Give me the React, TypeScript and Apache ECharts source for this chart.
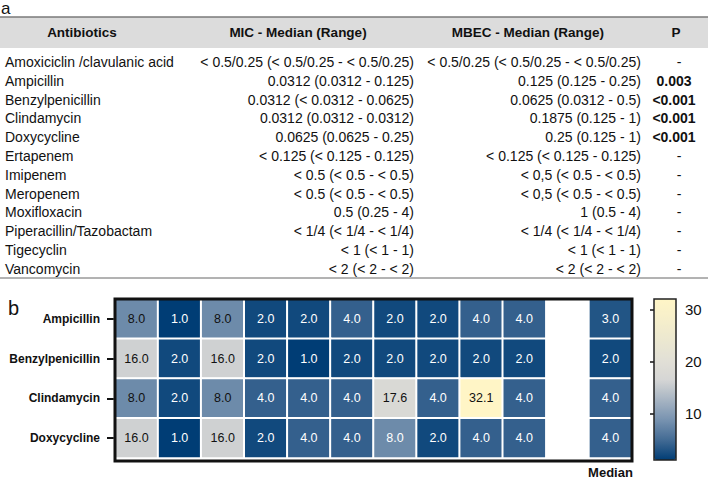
import React, { useEffect, useRef } from "react";
import * as echarts from "echarts";

// ---- Table (a) data ----
const antibiotics = [
  "Amoxiciclin /clavulanic acid",
  "Ampicillin",
  "Benzylpenicillin",
  "Clindamycin",
  "Doxycycline",
  "Ertapenem",
  "Imipenem",
  "Meropenem",
  "Moxifloxacin",
  "Piperacillin/Tazobactam",
  "Tigecyclin",
  "Vancomycin",
];
const micValues = [
  "< 0.5/0.25 (< 0.5/0.25 - < 0.5/0.25)",
  "0.0312 (0.0312 - 0.125)",
  "0.0312 (< 0.0312 - 0.0625)",
  "0.0312 (0.0312 - 0.0312)",
  "0.0625 (0.0625 - 0.25)",
  "< 0.125 (< 0.125 - 0.125)",
  "< 0.5 (< 0.5 - < 0.5)",
  "< 0.5 (< 0.5 - < 0.5)",
  "0.5 (0.25 - 4)",
  "< 1/4 (< 1/4 - < 1/4)",
  "< 1 (< 1 - 1)",
  "< 2 (< 2 - < 2)",
];
const mbecValues = [
  "< 0.5/0.25 (< 0.5/0.25 - < 0.5/0.25)",
  "0.125 (0.125 - 0.25)",
  "0.0625 (0.0312 - 0.5)",
  "0.1875 (0.125 - 1)",
  "0.25 (0.125 - 1)",
  "< 0.125 (< 0.125 - 0.125)",
  "< 0,5 (< 0.5 - < 0.5)",
  "< 0,5 (< 0.5 - < 0.5)",
  "1 (0.5 - 4)",
  "< 1/4 (< 1/4 - < 1/4)",
  "< 1 (< 1 - 1)",
  "< 2 (< 2 - < 2)",
];
const pValues = ["-", "0.003", "<0.001", "<0.001", "<0.001", "-", "-", "-", "-", "-", "-", "-"];
const tableHeaders = ["Antibiotics", "MIC - Median (Range)", "MBEC - Median (Range)", "P"];

// ---- Heatmap (b) data ----
const heatRows = ["Ampicillin", "Benzylpenicillin", "Clindamycin", "Doxycycline"];
const heatCols = ["1", "2", "3", "4", "5", "6", "7", "8", "9", "10", "", "Median"];
const ampicillinRatios = [8.0, 1.0, 8.0, 2.0, 2.0, 4.0, 2.0, 2.0, 4.0, 4.0, null, 3.0];
const benzylpenicillinRatios = [16.0, 2.0, 16.0, 2.0, 1.0, 2.0, 2.0, 2.0, 2.0, 2.0, null, 2.0];
const clindamycinRatios = [8.0, 2.0, 8.0, 4.0, 4.0, 4.0, 17.6, 4.0, 32.1, 4.0, null, 4.0];
const doxycyclineRatios = [16.0, 1.0, 16.0, 2.0, 4.0, 4.0, 8.0, 2.0, 4.0, 4.0, null, 4.0];
const heatValues = [ampicillinRatios, benzylpenicillinRatios, clindamycinRatios, doxycyclineRatios];
const colorbarTicks = [10, 20, 30];
const scaleMin = 1;
const scaleMax = 32.1;

// cells whose label is drawn white even though value >= 8 (style note)
const whiteLabelCells = [[6, 3]];

const FONT = "'Liberation Sans', Arial, Helvetica, sans-serif";

export default function App() {
  const ref = useRef<HTMLDivElement>(null);

  useEffect(() => {
    if (!ref.current) return;
    const chart = echarts.init(ref.current, null, { renderer: "svg" });

    const data: any[] = [];
    heatValues.forEach((row, r) => {
      row.forEach((v, c) => {
        if (v === null || v === undefined) return;
        const forcedWhite = whiteLabelCells.some(([cc, rr]) => cc === c && rr === r);
        const dark = v < 8 || forcedWhite;
        data.push({ value: [c, r, v], label: { color: dark ? "#ffffff" : "#111111" } });
      });
    });

    // ---- table graphics ----
    const rowY0 = 62;
    const rowStep = 18.8;
    const g: any[] = [];
    g.push({
      type: "text",
      style: { text: "a", x: 1, y: 0, textVerticalAlign: "top", fontSize: 17, fontFamily: FONT, fill: "#111" },
    });
    g.push({ type: "rect", shape: { x: 0, y: 17, width: 708, height: 31 }, style: { fill: "#dcdcdc" } });
    g.push({ type: "line", shape: { x1: 0, y1: 17, x2: 708, y2: 17 }, style: { stroke: "#7a7a7a", lineWidth: 1.5 } });
    g.push({ type: "line", shape: { x1: 0, y1: 278, x2: 708, y2: 278 }, style: { stroke: "#666", lineWidth: 1 } });
    const headerX = [82, 298, 528, 676];
    tableHeaders.forEach((h, i) => {
      g.push({
        type: "text",
        style: {
          text: h, x: headerX[i], y: 32, textAlign: "center", textVerticalAlign: "middle",
          fontSize: 13.5, fontWeight: "bold", fontFamily: FONT, fill: "#111",
        },
      });
    });
    antibiotics.forEach((name, i) => {
      const y = rowY0 + i * rowStep;
      g.push({ type: "text", style: { text: name, x: 5, y, textAlign: "left", textVerticalAlign: "middle", fontSize: 14, fontFamily: FONT, fill: "#111" } });
      g.push({ type: "text", style: { text: micValues[i], x: 414, y, textAlign: "right", textVerticalAlign: "middle", fontSize: 14, fontFamily: FONT, fill: "#111" } });
      g.push({ type: "text", style: { text: mbecValues[i], x: 641, y, textAlign: "right", textVerticalAlign: "middle", fontSize: 14, fontFamily: FONT, fill: "#111" } });
      const p = pValues[i];
      g.push({
        type: "text",
        style: {
          text: p, x: p === "-" ? 679 : 674, y, textAlign: "center", textVerticalAlign: "middle",
          fontSize: 14, fontWeight: p === "-" ? "normal" : "bold", fontFamily: FONT, fill: "#111",
        },
      });
    });
    g.push({
      type: "text",
      style: { text: "b", x: 8, y: 308, textVerticalAlign: "middle", fontSize: 20, fontFamily: FONT, fill: "#111" },
    });
    // heatmap frame and colorbar frame
    g.push({ type: "rect", z: 100, shape: { x: 115, y: 299, width: 517, height: 162 }, style: { fill: null, stroke: "#111", lineWidth: 3 } });
    g.push({ type: "rect", z: 100, shape: { x: 654, y: 299, width: 22, height: 161 }, style: { fill: null, stroke: "#222", lineWidth: 1.5 } });

    const option: any = {
      animation: false,
      textStyle: { fontFamily: FONT },
      grid: [
        { left: 115, top: 299, width: 517, height: 162 },
        { left: 654, top: 299, width: 22, height: 161 },
      ],
      xAxis: [
        {
          type: "category", gridIndex: 0, data: heatCols, position: "bottom",
          axisLine: { show: false }, axisTick: { show: false }, splitLine: { show: false },
          axisLabel: {
            interval: 0, margin: 8, fontSize: 13, fontWeight: "bold", color: "#111",
            formatter: (v: string) => (v === "Median" ? v : ""),
          },
        },
        { type: "value", gridIndex: 1, show: false, min: 0, max: 1 },
      ],
      yAxis: [
        {
          type: "category", gridIndex: 0, data: heatRows, inverse: true,
          axisLine: { show: false },
          axisTick: { show: true, alignWithLabel: true, length: 8, lineStyle: { color: "#111", width: 2 } },
          axisLabel: { margin: 15, fontSize: 12, fontWeight: "bold", color: "#111" },
          splitLine: { show: false },
        },
        {
          type: "value", gridIndex: 1, position: "right", min: scaleMin, max: scaleMax,
          axisLine: { show: false }, splitLine: { show: false },
          axisTick: { show: true, inside: true, length: 4, customValues: colorbarTicks, lineStyle: { color: "#111", width: 1.5 } },
          axisLabel: { show: true, margin: 9, fontSize: 15, color: "#111", customValues: colorbarTicks },
        },
        {
          type: "value", gridIndex: 1, position: "left", min: scaleMin, max: scaleMax,
          axisLine: { show: false }, splitLine: { show: false },
          axisTick: { show: true, inside: true, length: 4, customValues: colorbarTicks, lineStyle: { color: "#111", width: 1.5 } },
          axisLabel: { show: false },
        },
      ],
      visualMap: {
        type: "continuous", min: scaleMin, max: scaleMax, dimension: 2, seriesIndex: 0,
        orient: "vertical", left: 654, top: 299, itemWidth: 22, itemHeight: 161, padding: 0,
        calculable: false, showLabel: false, text: null,
        inRange: {
          color: ["#003d75", "#436b94", "#7893b0", "#a8b5c3", "#d6d6d5", "#e2e0d6", "#ece8d0", "#f6efcb", "#fff5c6"],
        },
      },
      series: [
        {
          type: "heatmap", xAxisIndex: 0, yAxisIndex: 0, data,
          itemStyle: { borderColor: "#ffffff", borderWidth: 2 },
          label: { show: true, fontSize: 12.5, fontFamily: FONT, formatter: (p: any) => Number(p.value[2]).toFixed(1) },
          emphasis: { disabled: true },
        },
      ],
      graphic: g,
    };
    chart.setOption(option);
    return () => chart.dispose();
  }, []);

  return (
    <div
      ref={ref}
      style={{ position: "fixed", left: 0, top: 0, width: 708, height: 479, background: "#fff" }}
    />
  );
}
